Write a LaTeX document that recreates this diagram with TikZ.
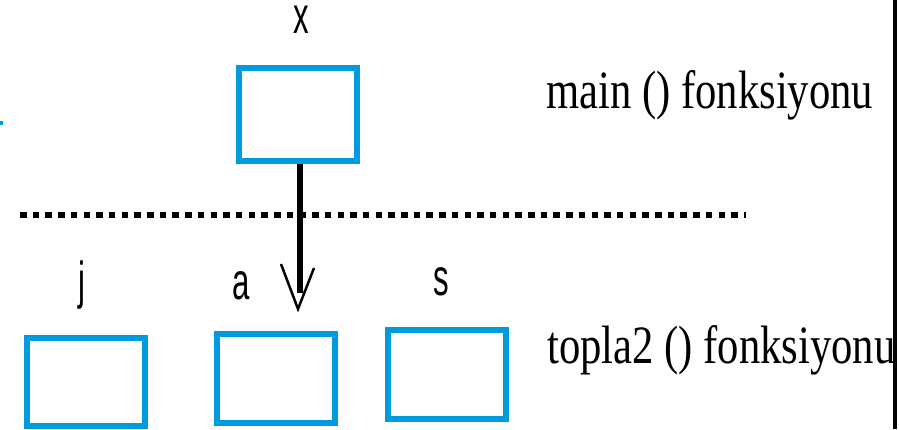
\documentclass[tikz,border=0pt]{standalone}
\usepackage{fontspec}
\usepackage{graphicx}
\setmainfont{Liberation Serif}
\newfontfamily\labelfont{Liberation Sans}
\definecolor{boxblue}{RGB}{0,154,222}
\begin{document}
\begin{tikzpicture}[x=1pt,y=-1pt,
  varbox/.style={draw=boxblue, line width=6pt, rectangle, inner sep=0pt, minimum width=118pt},
  varname/.style={anchor=base, inner sep=0pt, font=\labelfont\fontsize{52}{56}\selectfont},
  fnname/.style={anchor=base west, inner sep=0pt, font=\fontsize{54}{60}\selectfont},
  separator/.style={line width=6pt, dash pattern=on 6.5pt off 6.2pt},
  shaft/.style={line width=6pt},
  barb/.style={line width=2.5pt, line join=miter}]
\useasboundingbox (0,0) rectangle (899,429);

% memory cells of the two functions
\node[varbox, minimum height=93pt] (xbox) at (298,114.5) {};
\node[varbox, minimum height=88pt] (jbox) at (86,382) {};
\node[varbox, minimum height=89pt] (abox) at (276,378.5) {};
\node[varbox, minimum height=89pt] (sbox) at (447,374.5) {};

% variable names
\node[varname] (xlab) at (301.5,33) {\smash{\scalebox{0.6}[1]{x}}};
\node[varname] (jlab) at (82,298) {\scalebox{0.6}[1]{j}};
\node[varname] (alab) at (241,299) {\scalebox{0.6}[1]{a}};
\node[varname] (slab) at (441,295) {\scalebox{0.6}[1]{s}};

% small mark at the left edge
\fill[boxblue] (0,121) rectangle (3,125);

% dotted separator between the two scopes
\coordinate (sepL) at (20,215);
\coordinate (sepR) at (746,215);
\draw[separator] (sepL) -- (sepR);

% value passed from x to a
\coordinate (shaftend) at (300,293);
\coordinate (tip) at (298,309);
\draw[shaft] ([xshift=2pt]xbox.south) -- (shaftend);
\draw[barb] ([shift={(-17,-45)}]tip) -- (tip) -- ([shift={(16,-41)}]tip);

% function names
\node[fnname] (mainlab) at (546,108) {\scalebox{0.79}[1]{main () fonksiyonu}};
\begin{scope}
  \clip (0,0) rectangle (893,429);
  \node[fnname] (toplalab) at (547,363) {\scalebox{0.79}[1]{topla2 () fonksiyonu}};
\end{scope}

% right border
\draw[line width=4pt] (895,0) -- (895,429);
\end{tikzpicture}
\end{document}
